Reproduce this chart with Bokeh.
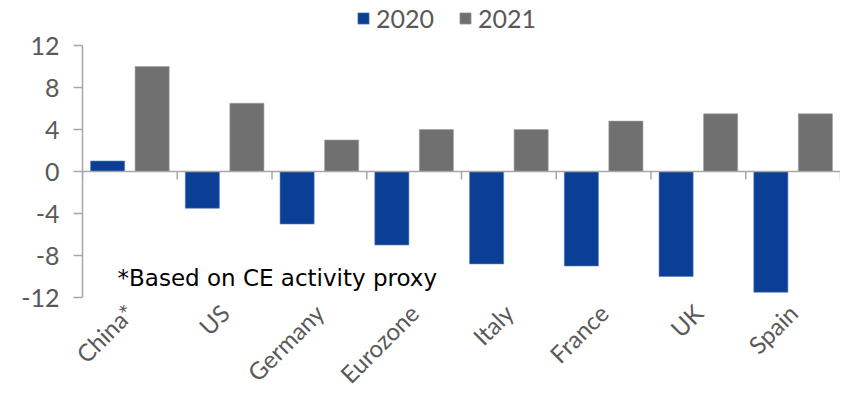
import math
import numpy as np
from bokeh.plotting import figure
from bokeh.models import (ColumnDataSource, Range1d, FixedTicker, LinearAxis, Legend,
                          LegendItem, Label, Span)
from bokeh.embed import file_html
from bokeh.resources import INLINE

categories = ["China*", "US", "Germany", "Eurozone", "Italy", "France", "UK", "Spain"]
series_names = ["2020", "2021"]
values_2020 = [1.0, -3.5, -5.0, -7.0, -8.8, -9.0, -10.0, -11.5]
values_2021 = [10.0, 6.5, 3.0, 4.0, 4.0, 4.8, 5.5, 5.5]
y_ticks = [-12, -8, -4, 0, 4, 8, 12]
y_tick_labels = ["-12", "-8", "-4", "0", "4", "8", "12"]
note_text = "*Based on CE activity proxy"

BLUE = "#0a3f95"
GRAY = "#707070"
TEXT = "#595959"
AXIS = "#a6a6a6"
GRID = "#d9d9d9"
FONT = "Lato"

n = len(categories)
centers = np.arange(n) + 0.5
src = ColumnDataSource(dict(
    x20=centers - 0.235, x21=centers + 0.235,
    v20=values_2020, v21=values_2021,
))

# extra headroom above the top tick holds the legend inside the frame
p = figure(width=840, height=401, output_backend="svg", toolbar_location=None,
           x_range=Range1d(0, n), y_range=Range1d(y_ticks[0], y_ticks[-1] + 4.0),
           x_axis_type=None, y_axis_type=None)
p.min_border_left = 82
p.min_border_right = 0
p.min_border_top = 3
p.min_border_bottom = 103
p.outline_line_color = None
p.background_fill_color = "white"

# y axis
yax = LinearAxis(ticker=FixedTicker(ticks=y_ticks), bounds=(y_ticks[0], y_ticks[-1]))
yax.major_label_overrides = {float(t): lab for t, lab in zip(y_ticks, y_tick_labels)}
yax.axis_line_color = AXIS
yax.axis_line_width = 1.5
yax.major_tick_line_color = AXIS
yax.major_tick_line_width = 1.5
yax.major_tick_out = 9
yax.major_tick_in = 0
yax.minor_tick_line_color = None
yax.major_label_text_font = FONT
yax.major_label_text_font_size = "25px"
yax.major_label_text_color = TEXT
yax.major_label_standoff = 14
p.add_layout(yax, "left")

# x axis (labels only)
xax = LinearAxis(ticker=FixedTicker(ticks=list(centers)))
xax.major_label_overrides = {float(c): name for c, name in zip(centers, categories)}
xax.axis_line_color = None
xax.major_tick_line_color = None
xax.minor_tick_line_color = None
xax.major_label_orientation = math.pi / 4
xax.major_label_text_font = FONT
xax.major_label_text_font_size = "24px"
xax.major_label_text_color = TEXT
xax.major_label_standoff = 5
p.add_layout(xax, "below")

# grid
p.ygrid.grid_line_color = GRID
p.ygrid.grid_line_width = 1.5
p.ygrid.ticker = FixedTicker(ticks=y_ticks)
p.xgrid.grid_line_color = None

r20 = p.vbar(x="x20", top="v20", bottom=0, width=0.36, source=src,
             fill_color=BLUE, line_color="#5b7fc0", line_width=0.6)
r21 = p.vbar(x="x21", top="v21", bottom=0, width=0.36, source=src,
             fill_color=GRAY, line_color="#a0a0a0", line_width=0.6)

# zero line and category boundary ticks
p.add_layout(Span(location=0, dimension="width", line_color=AXIS, line_width=1.5, level="overlay"))
bounds = np.arange(n + 1)
p.segment(x0=bounds, y0=np.zeros(n + 1), x1=bounds, y1=np.full(n + 1, -0.75),
          line_color=AXIS, line_width=1.5)

p.add_layout(Label(x=0.37, y=-10.1, text=note_text, text_font="DejaVu Sans", text_font_size="23px",
                   text_color="#000000", text_baseline="middle", text_align="left"))

legend = Legend(items=[LegendItem(label=series_names[0], renderers=[r20]),
                       LegendItem(label=series_names[1], renderers=[r21])],
                orientation="horizontal", location=(274, 264))
legend.label_text_font = FONT
legend.label_text_font_size = "25px"
legend.label_text_color = TEXT
legend.label_height = 26
legend.glyph_width = 14
legend.glyph_height = 14
legend.spacing = 24
legend.label_standoff = 6
legend.padding = 0
legend.margin = 0
legend.border_line_color = None
legend.background_fill_alpha = 0
p.add_layout(legend, "center")

open("out.html", "w").write(file_html(p, INLINE))
